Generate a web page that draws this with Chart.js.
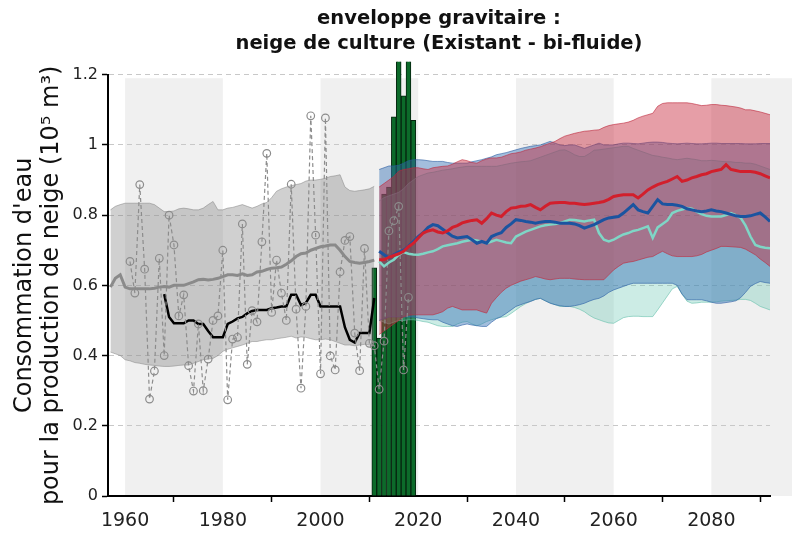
<!DOCTYPE html>
<html>
<head>
<meta charset="utf-8">
<script src="https://cdn.jsdelivr.net/npm/chart.js@4.4.1/dist/chart.umd.min.js"></script>
<style>
  html, body { margin: 0; padding: 0; background: #fff; }
</style>
</head>
<body>
<canvas id="chart" width="792" height="535"></canvas>
<script>
// axis ticks and shaded decades
const xTicks = [1960, 1980, 2000, 2020, 2040, 2060, 2080];
const yTicks = [0, 0.2, 0.4, 0.6, 0.8, 1, 1.2];
const greySpans = [[1960, 1980], [2000, 2020], [2040, 2060], [2080, 2100]];

// green bars (recent seasons)
const barYears = [2011, 2012, 2013, 2014, 2015, 2016, 2017, 2018, 2019];
const barValues = [0.65, 0.45, 0.86, 0.88, 1.08, 1.3, 1.14, 1.3, 1.07];

// yearly observations (grey circles, dashed)
const obsStart = 1961;
const obsValues = [
  0.668, 0.578, 0.887, 0.646, 0.276, 0.356, 0.677, 0.40, 0.80, 0.715,
  0.513, 0.573, 0.371, 0.299, 0.49, 0.30, 0.39, 0.50, 0.513, 0.70,
  0.274, 0.447, 0.452, 0.775, 0.375, 0.528, 0.496, 0.724, 0.976, 0.523,
  0.672, 0.578, 0.50, 0.888, 0.532, 0.307, 0.54, 1.083, 0.743, 0.348,
  1.077, 0.399, 0.359, 0.638, 0.728, 0.739, 0.464, 0.357, 0.705, 0.435,
  0.428, 0.304, 0.441, 0.755, 0.784, 0.825, 0.359, 0.566
];

// reanalysis: grey mean and envelope
const histStart = 1957;
const histMean = [
  0.595, 0.62, 0.63, 0.595, 0.59, 0.59, 0.59, 0.59, 0.59, 0.592,
  0.595, 0.597, 0.595, 0.6, 0.6, 0.6, 0.605, 0.61, 0.616, 0.617,
  0.615, 0.617, 0.62, 0.625, 0.63, 0.63, 0.628, 0.633, 0.628, 0.63,
  0.638, 0.64, 0.645, 0.649, 0.65, 0.652, 0.66, 0.67, 0.682, 0.69,
  0.692, 0.70, 0.705, 0.71, 0.712, 0.715, 0.715, 0.70, 0.682, 0.668,
  0.665, 0.663, 0.665, 0.668, 0.672
];
const histHigh = [
  0.815, 0.825, 0.83, 0.834, 0.834, 0.834, 0.834, 0.834, 0.834, 0.83,
  0.82, 0.81, 0.81, 0.812, 0.818, 0.82, 0.818, 0.815, 0.815, 0.82,
  0.83, 0.839, 0.815, 0.815, 0.82, 0.822, 0.826, 0.83, 0.825, 0.82,
  0.825, 0.832, 0.836, 0.85, 0.868, 0.875, 0.88, 0.884, 0.887, 0.89,
  0.897, 0.90, 0.90, 0.902, 0.905, 0.91, 0.912, 0.915, 0.88, 0.87,
  0.868, 0.87, 0.872, 0.875, 0.882
];
const histLow = [
  0.41, 0.405, 0.40, 0.388, 0.385, 0.38, 0.378, 0.375, 0.373, 0.372,
  0.37, 0.369, 0.369, 0.37, 0.372, 0.373, 0.373, 0.378, 0.383, 0.388,
  0.39, 0.392, 0.40, 0.412, 0.418, 0.422, 0.426, 0.43, 0.435, 0.44,
  0.44, 0.443, 0.445, 0.445, 0.448, 0.45, 0.452, 0.455, 0.45, 0.453,
  0.452, 0.448, 0.445, 0.445, 0.447, 0.445, 0.44, 0.435, 0.43, 0.43,
  0.428, 0.43, 0.432, 0.43, 0.43
];

// observed running mean (black)
const blackStart = 1968;
const blackValues = [
  0.575, 0.51, 0.492, 0.492, 0.492, 0.50, 0.50, 0.49, 0.49, 0.47,
  0.452, 0.452, 0.452, 0.49, 0.497, 0.506, 0.51, 0.52, 0.527, 0.53,
  0.53, 0.53, 0.535, 0.537, 0.54, 0.54, 0.573, 0.573, 0.544, 0.55,
  0.573, 0.573, 0.54, 0.54, 0.54, 0.54, 0.54, 0.48, 0.445, 0.437,
  0.464, 0.464, 0.464, 0.564
];

// projections 2012-2092
const projStart = 2012;
const redMean = [
  0.673, 0.673, 0.68, 0.685, 0.69, 0.697, 0.71, 0.72, 0.735, 0.749,
  0.755, 0.758, 0.752, 0.749, 0.755, 0.765, 0.77, 0.778, 0.782, 0.785,
  0.787, 0.777, 0.79, 0.806, 0.8, 0.796, 0.81, 0.82, 0.822, 0.825,
  0.826, 0.83, 0.822, 0.815, 0.825, 0.834, 0.835, 0.836, 0.836, 0.834,
  0.834, 0.832, 0.83, 0.832, 0.834, 0.836, 0.839, 0.845, 0.853, 0.856,
  0.858, 0.858, 0.858, 0.849, 0.86, 0.872, 0.88, 0.887, 0.892, 0.896,
  0.903, 0.91, 0.896, 0.9, 0.906, 0.91, 0.915, 0.918, 0.924, 0.927,
  0.93, 0.944, 0.93, 0.927, 0.924, 0.924, 0.924, 0.922, 0.918, 0.912,
  0.906
];
const blueMean = [
  0.697, 0.687, 0.678, 0.687, 0.695, 0.70, 0.711, 0.725, 0.739, 0.75,
  0.765, 0.773, 0.77, 0.76, 0.75, 0.74, 0.735, 0.737, 0.739, 0.73,
  0.72, 0.725, 0.72, 0.739, 0.745, 0.75, 0.765, 0.775, 0.787, 0.785,
  0.782, 0.78, 0.777, 0.78, 0.782, 0.782, 0.78, 0.777, 0.777, 0.777,
  0.775, 0.77, 0.763, 0.768, 0.773, 0.78, 0.787, 0.792, 0.794, 0.796,
  0.806, 0.818, 0.83, 0.815, 0.81, 0.806, 0.825, 0.844, 0.832, 0.83,
  0.83, 0.828, 0.825, 0.818, 0.815, 0.812, 0.81, 0.812, 0.815, 0.812,
  0.81, 0.806, 0.802, 0.798, 0.796, 0.796, 0.798, 0.802, 0.806, 0.795,
  0.782
];
const tealMean = [
  0.668, 0.654, 0.665, 0.673, 0.687, 0.695, 0.69, 0.688, 0.687, 0.69,
  0.694, 0.697, 0.703, 0.711, 0.714, 0.717, 0.72, 0.724, 0.727, 0.73,
  0.728, 0.724, 0.72, 0.725, 0.73, 0.726, 0.722, 0.72, 0.739, 0.746,
  0.753, 0.758, 0.763, 0.768, 0.771, 0.773, 0.775, 0.777, 0.782, 0.787,
  0.786, 0.784, 0.782, 0.785, 0.787, 0.749, 0.73, 0.725, 0.73, 0.738,
  0.745, 0.749, 0.755, 0.758, 0.763, 0.768, 0.735, 0.765, 0.775, 0.785,
  0.806, 0.812, 0.816, 0.82, 0.818, 0.81, 0.803, 0.798, 0.796, 0.796,
  0.796, 0.8, 0.806, 0.8, 0.792, 0.77, 0.739, 0.715, 0.71, 0.707,
  0.706
];
const redHigh = [
  0.88, 0.89, 0.90, 0.91, 0.925, 0.93, 0.932, 0.935, 0.935, 0.932,
  0.93, 0.935, 0.937, 0.939, 0.94, 0.945, 0.952, 0.958, 0.955, 0.95,
  0.948, 0.955, 0.96, 0.963, 0.963, 0.965, 0.97, 0.975, 0.977, 0.98,
  0.985, 0.988, 0.991, 0.995, 1.0, 1.005, 1.01, 1.018, 1.025, 1.029,
  1.033, 1.036, 1.039, 1.04, 1.042, 1.043, 1.05, 1.055, 1.058, 1.06,
  1.062, 1.065, 1.07, 1.077, 1.082, 1.086, 1.09, 1.11, 1.118, 1.12,
  1.12, 1.12, 1.12, 1.12, 1.118, 1.115, 1.112, 1.113, 1.115, 1.115,
  1.113, 1.112, 1.11, 1.108, 1.105, 1.10, 1.10, 1.097, 1.094, 1.09,
  1.086
];
const redLow = [
  0.46, 0.47, 0.48, 0.49, 0.5, 0.51, 0.515, 0.516, 0.516, 0.516,
  0.516, 0.516, 0.52, 0.525, 0.535, 0.54, 0.535, 0.53, 0.53, 0.53,
  0.53, 0.525, 0.521, 0.549, 0.565, 0.58, 0.592, 0.6, 0.606, 0.612,
  0.616, 0.62, 0.625, 0.622, 0.618, 0.616, 0.618, 0.62, 0.62, 0.62,
  0.618, 0.617, 0.616, 0.616, 0.616, 0.616, 0.616, 0.63, 0.644, 0.654,
  0.663, 0.666, 0.668, 0.672, 0.676, 0.68, 0.682, 0.69, 0.697, 0.69,
  0.684, 0.682, 0.682, 0.682, 0.682, 0.684, 0.688, 0.695, 0.70, 0.705,
  0.711, 0.711, 0.71, 0.709, 0.708, 0.703, 0.695, 0.687, 0.675, 0.665,
  0.654
];
const blueHigh = [
  0.93, 0.935, 0.94, 0.94, 0.942, 0.948, 0.955, 0.958, 0.958, 0.957,
  0.955, 0.953, 0.953, 0.953, 0.95, 0.948, 0.948, 0.948, 0.948, 0.952,
  0.955, 0.958, 0.962, 0.966, 0.972, 0.975, 0.978, 0.982, 0.986, 0.99,
  0.993, 0.996, 0.998, 1.0, 1.005, 1.01, 1.005, 1.0, 0.998, 1.0,
  1.0, 0.995, 0.99, 0.995, 1.0, 1.005, 1.0, 1.0, 1.0, 1.003,
  1.005, 1.005, 1.004, 1.003, 1.005, 1.007, 1.008, 1.008, 1.007, 1.005,
  1.004, 1.003, 1.004, 1.005, 1.004, 1.003, 1.003, 1.004, 1.005, 1.005,
  1.004, 1.004, 1.004, 1.004, 1.004, 1.003, 1.003, 1.003, 1.004, 1.004,
  1.004
];
const blueLow = [
  0.5, 0.505, 0.51, 0.51, 0.51, 0.51, 0.51, 0.51, 0.507, 0.505,
  0.503, 0.502, 0.502, 0.495, 0.49, 0.485, 0.483, 0.487, 0.49, 0.487,
  0.485, 0.483, 0.483, 0.495, 0.505, 0.511, 0.52, 0.53, 0.54, 0.545,
  0.55, 0.554, 0.56, 0.563, 0.556, 0.549, 0.545, 0.542, 0.54, 0.54,
  0.542, 0.545, 0.549, 0.555, 0.56, 0.563, 0.57, 0.58, 0.587, 0.592,
  0.597, 0.602, 0.606, 0.606, 0.606, 0.606, 0.606, 0.606, 0.606, 0.606,
  0.606, 0.6, 0.575, 0.559, 0.559, 0.559, 0.559, 0.556, 0.552, 0.549,
  0.549, 0.551, 0.553, 0.556, 0.565, 0.58, 0.597, 0.605, 0.611, 0.608,
  0.606
];
const tealHigh = [
  0.84, 0.85, 0.855, 0.86, 0.865, 0.875, 0.89, 0.9, 0.91, 0.915,
  0.92, 0.922, 0.925, 0.928, 0.93, 0.932, 0.935, 0.937, 0.939, 0.939,
  0.939, 0.939, 0.939, 0.939, 0.939, 0.942, 0.945, 0.948, 0.95, 0.952,
  0.953, 0.955, 0.96, 0.965, 0.97, 0.975, 0.98, 0.985, 0.986, 0.98,
  0.972, 0.967, 0.967, 0.975, 0.985, 0.986, 0.988, 0.99, 0.992, 0.994,
  0.996, 0.996, 0.99, 0.985, 0.98, 0.975, 0.97, 0.968, 0.965, 0.963,
  0.96, 0.958, 0.96, 0.962, 0.96, 0.958, 0.955, 0.955, 0.956, 0.955,
  0.953, 0.952, 0.952, 0.95, 0.95, 0.948, 0.948, 0.945, 0.94, 0.935,
  0.93
];
const tealLow = [
  0.5, 0.495, 0.49, 0.495, 0.5, 0.5, 0.502, 0.502, 0.5, 0.497,
  0.495, 0.49, 0.485, 0.483, 0.483, 0.483, 0.49, 0.495, 0.497, 0.49,
  0.485, 0.49, 0.497, 0.502, 0.506, 0.509, 0.511, 0.52, 0.53, 0.54,
  0.548, 0.555, 0.56, 0.563, 0.556, 0.55, 0.545, 0.54, 0.54, 0.54,
  0.537, 0.532, 0.525, 0.515, 0.507, 0.502, 0.497, 0.493, 0.492, 0.5,
  0.508, 0.511, 0.512, 0.512, 0.511, 0.511, 0.511, 0.53, 0.55, 0.57,
  0.59, 0.597, 0.575, 0.555, 0.549, 0.55, 0.552, 0.552, 0.552, 0.553,
  0.555, 0.556, 0.557, 0.558, 0.56, 0.56, 0.557, 0.549, 0.54, 0.535,
  0.53
];

// turn a start year + yearly values into {x, y} points
const series = (start, values) => values.map((v, i) => ({ x: start + i, y: v }));
const pairs = (years, values) => values.map((v, i) => ({ x: years[i], y: v }));

Chart.defaults.font.family = "'DejaVu Sans', sans-serif";
Chart.defaults.color = '#222';

// light grey decade bands behind everything
const decadeBands = {
  id: 'decadeBands',
  beforeDraw(chart) {
    const { ctx, scales: { x, y } } = chart;
    ctx.save();
    ctx.fillStyle = '#fff';
    ctx.fillRect(0, 0, chart.width, chart.height);
    ctx.fillStyle = '#f0f0f0';
    const top = y.getPixelForValue(1.19);
    const bottom = y.getPixelForValue(0);
    greySpans.forEach(([a, b]) => {
      const x0 = x.getPixelForValue(a);
      const x1 = x.getPixelForValue(b);
      ctx.fillRect(x0, top, x1 - x0, bottom - top);
    });
    ctx.restore();
  }
};

const edge = { pointRadius: 0, tension: 0, fill: false };

const datasets = [
  {
    type: 'bar',
    data: pairs(barYears, barValues),
    backgroundColor: '#0c6a2a',
    borderColor: '#06230f',
    borderWidth: 1,
    barPercentage: 1,
    categoryPercentage: 1,
    clip: { left: 0, top: 13, right: 0, bottom: 0 }
  },
  { ...edge, data: series(histStart, histLow), borderWidth: 1, borderColor: 'rgba(120,120,120,0.45)' },
  { ...edge, data: series(histStart, histHigh), borderWidth: 1, borderColor: 'rgba(120,120,120,0.45)',
    fill: '-1', backgroundColor: 'rgba(120,120,120,0.35)' },
  { ...edge, data: series(projStart, tealLow), borderWidth: 1, borderColor: 'rgba(100,190,170,0.6)' },
  { ...edge, data: series(projStart, tealHigh), borderWidth: 1, borderColor: 'rgba(100,190,170,0.6)',
    fill: '-1', backgroundColor: 'rgba(110,200,180,0.35)' },
  { ...edge, data: series(projStart, blueLow), borderWidth: 1, borderColor: 'rgba(40,90,160,0.6)' },
  { ...edge, data: series(projStart, blueHigh), borderWidth: 1, borderColor: 'rgba(40,90,160,0.6)',
    fill: '-1', backgroundColor: 'rgba(50,110,180,0.45)' },
  { ...edge, data: series(projStart, redLow), borderWidth: 1, borderColor: 'rgba(190,40,60,0.6)' },
  { ...edge, data: series(projStart, redHigh), borderWidth: 1, borderColor: 'rgba(190,40,60,0.6)',
    fill: '-1', backgroundColor: 'rgba(200,40,60,0.45)' },
  { ...edge, data: series(histStart, histMean), borderColor: '#8a8a8a', borderWidth: 3 },
  { ...edge, data: series(blackStart, blackValues), borderColor: '#000', borderWidth: 2.5 },
  {
    data: series(obsStart, obsValues),
    borderColor: '#8c8c8c',
    borderWidth: 1.2,
    borderDash: [4, 3],
    tension: 0,
    fill: false,
    pointRadius: 3.8,
    pointBorderWidth: 1.2,
    pointBorderColor: '#8c8c8c',
    pointBackgroundColor: 'rgba(255,255,255,0)'
  },
  { ...edge, data: series(projStart, tealMean), borderColor: '#7fd6c6', borderWidth: 2.5 },
  { ...edge, data: series(projStart, blueMean), borderColor: '#1b54a0', borderWidth: 3 },
  { ...edge, data: series(projStart, redMean), borderColor: '#d21f2c', borderWidth: 3 }
];
// keep drawing order = list order
datasets.forEach((d, i) => { d.order = 100 - i; });

new Chart(document.getElementById('chart'), {
  type: 'line',
  data: { datasets },
  options: {
    responsive: false,
    animation: false,
    events: [],
    devicePixelRatio: 1,
    layout: { padding: { left: 0, right: 22, top: 0, bottom: 0 } },
    plugins: {
      legend: { display: false },
      tooltip: { enabled: false },
      title: {
        display: true,
        fullSize: false,
        text: ['enveloppe gravitaire :', 'neige de culture (Existant - bi-fluide)'],
        font: { size: 19.5, weight: 'bold', lineHeight: 1.3 },
        color: '#111',
        padding: { top: 6, bottom: 18 }
      }
    },
    scales: {
      x: {
        type: 'linear',
        min: 1956.5,
        max: 2092,
        offset: false,
        afterBuildTicks: s => { s.ticks = xTicks.map(v => ({ value: v })); },
        afterFit: s => { s.height = 39; },
        ticks: { font: { size: 19 }, padding: 8, maxRotation: 0, callback: v => String(v) },
        grid: { drawOnChartArea: false, drawTicks: true, tickLength: 6, tickColor: '#000', tickWidth: 1.5 },
        border: { color: '#000', width: 2 }
      },
      y: {
        min: 0,
        max: 1.2,
        afterBuildTicks: s => { s.ticks = yTicks.map(v => ({ value: v })); },
        afterFit: s => { s.width = 108; },
        ticks: { font: { size: 16 }, padding: 4, callback: v => String(Math.round(v * 10) / 10) },
        grid: { color: '#c8c8c8', lineWidth: 1, tickLength: 6,
                tickColor: '#000', tickWidth: 1.5, tickBorderDash: [] },
        border: { color: '#000', width: 2, dash: [5, 4] },
        title: {
          display: true,
          text: ["Consommation d'eau", 'pour la production de neige (10⁵ m³)'],
          font: { size: 24, lineHeight: 1.1 },
          color: '#111',
          padding: { top: 12, bottom: 0 }
        }
      }
    }
  },
  plugins: [decadeBands]
});
</script>
</body>
</html>
